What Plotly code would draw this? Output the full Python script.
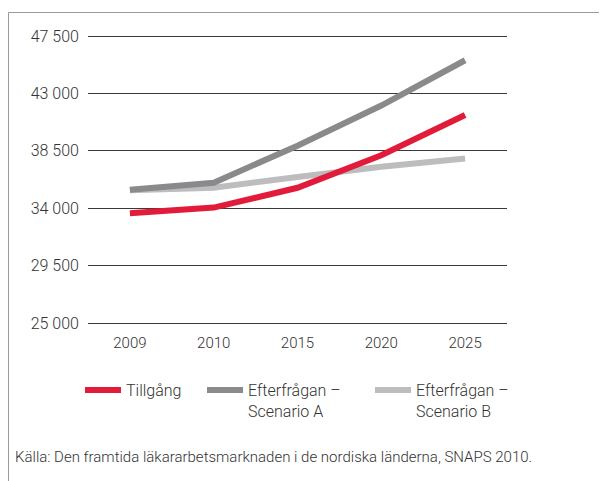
import plotly.graph_objects as go

years = ["2009", "2010", "2015", "2020", "2025"]
tillgang = [33600, 34050, 35600, 38150, 41300]
scenario_a = [35450, 36000, 38900, 42050, 45600]
scenario_b = [35400, 35600, 36450, 37250, 37900]
y_ticks = [25000, 29500, 34000, 38500, 43000, 47500]
y_tick_labels = ["25 000", "29 500", "34 000", "38 500", "43 000", "47 500"]
source_text = "Källa: Den framtida läkararbetsmarknaden i de nordiska länderna, SNAPS 2010."

# page has an 8px body margin; figure sized to fit the 607x481 window
OFF = 8
W, H = 607 - OFF, 481 - OFF
PAD = 3  # px of padding above/below the end gridlines
ML, MR, MT, MB = 80, 100, 28 - PAD, 158 - PAD
PW, PH = W - ML - MR, H - MT - MB
UNITS_PER_PX = (y_ticks[-1] - y_ticks[0]) / (PH - 2 * PAD)
Y_RANGE = [y_ticks[0] - PAD * UNITS_PER_PX, y_ticks[-1] + PAD * UNITS_PER_PX]

def px_x(x):  # page pixel -> paper
    return (x - OFF - ML) / PW

def px_y(y):
    return (H - MB - (y - OFF)) / PH

FONT = "Roboto, Liberation Sans, Arial, sans-serif"
TXT = "#333333"

fig = go.Figure()
fig.add_trace(go.Scatter(x=years, y=scenario_b, mode="lines", name="Efterfrågan –<br>Scenario B",
                         line=dict(color="#bdbdc0", width=6), legend="legend3"))
fig.add_trace(go.Scatter(x=years, y=scenario_a, mode="lines", name="Efterfrågan –<br>Scenario A",
                         line=dict(color="#8a8a8d", width=6), legend="legend2"))
fig.add_trace(go.Scatter(x=years, y=tillgang, mode="lines", name="Tillgång",
                         line=dict(color="#e31b3a", width=6), legend="legend"))

leg_common = dict(orientation="h", yanchor="top", xanchor="left", valign="top",
                  itemwidth=36,
                  font=dict(family=FONT, size=16, color=TXT, weight=300),
                  bgcolor="rgba(0,0,0,0)", borderwidth=0)

LEG_TOP = 373
fig.update_layout(
    width=W, height=H,
    margin=dict(l=ML, r=MR, t=MT, b=MB),
    paper_bgcolor="white", plot_bgcolor="white",
    font=dict(family=FONT, color=TXT, weight=300),
    showlegend=True,
    legend=dict(x=px_x(80), y=px_y(LEG_TOP), **leg_common),
    legend2=dict(x=px_x(202), y=px_y(LEG_TOP), **leg_common),
    legend3=dict(x=px_x(370), y=px_y(LEG_TOP), **leg_common),
    xaxis=dict(type="category", range=[-0.5, 4.5], showgrid=False, zeroline=False,
               showline=False, ticks="", tickfont=dict(size=15, color=TXT, weight=300),
               ticklabelstandoff=6),
    yaxis=dict(range=Y_RANGE, tickvals=y_ticks, ticktext=y_tick_labels,
               showgrid=True, gridcolor="#3a3a3a", gridwidth=1, zeroline=False,
               showline=False, ticks="", tickfont=dict(size=16, color=TXT, weight=300),
               ticklabelstandoff=8),
    shapes=[dict(type="rect", xref="paper", yref="paper",
                 x0=px_x(8.5), x1=px_x(660), y0=px_y(540), y1=px_y(12.5),
                 line=dict(color="#9a9a9a", width=1), fillcolor="rgba(0,0,0,0)", layer="below")],
    annotations=[dict(text=source_text, xref="paper", yref="paper",
                      x=px_x(13), y=px_y(457), xanchor="left", yanchor="middle",
                      showarrow=False, font=dict(family=FONT, size=15, color=TXT, weight=300))],
)

fig.write_html("out.html")
